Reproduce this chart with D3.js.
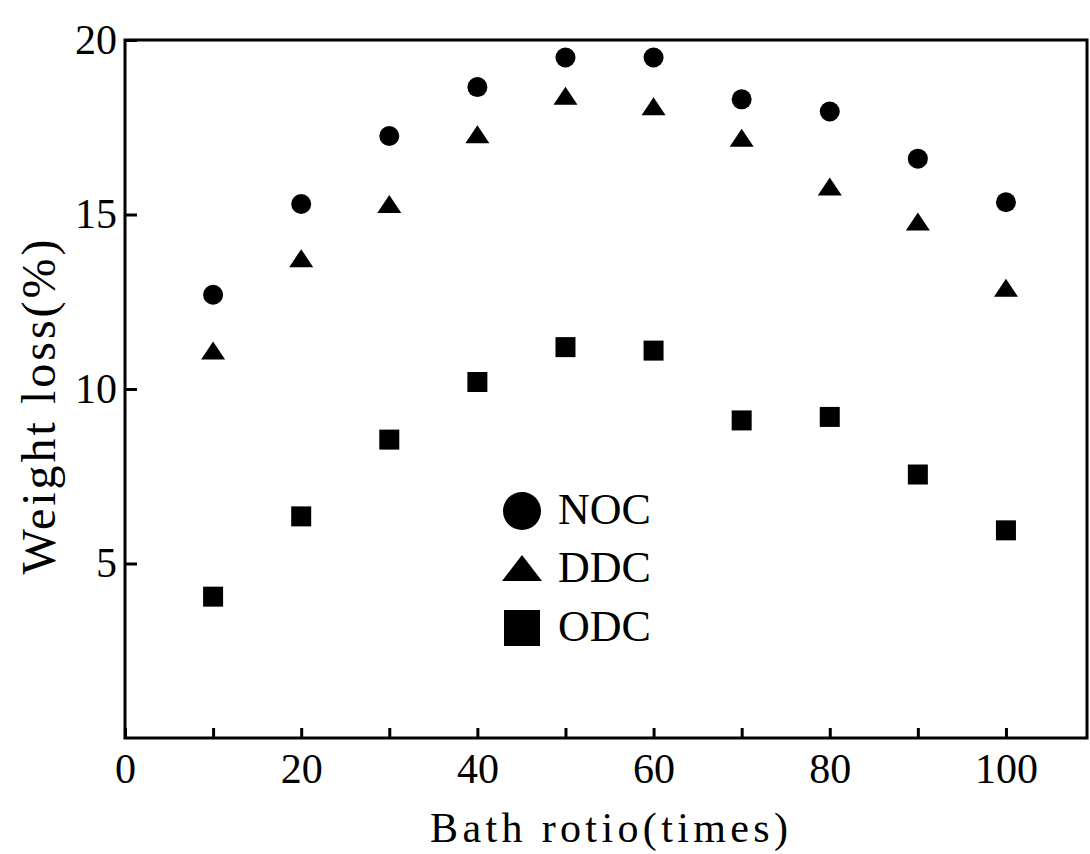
<!DOCTYPE html>
<html>
<head>
  <meta charset="utf-8">
  <title>Weight loss vs bath ratio</title>
  <script src="https://d3js.org/d3.v7.min.js"></script>
  <style>
    body { margin: 0; background: #fff; }
    svg { display: block; }
    text { font-family: "Liberation Serif", "DejaVu Serif", serif; fill: #000; }
  </style>
</head>
<body>
  <div id="chart"></div>
  <script>
    // data
    var ratios = [10, 20, 30, 40, 50, 60, 70, 80, 90, 100];
    var noc = [12.7, 15.3, 17.25, 18.65, 19.5, 19.5, 18.3, 17.95, 16.6, 15.35];
    var ddc = [11.1, 13.75, 15.3, 17.3, 18.4, 18.1, 17.2, 15.8, 14.8, 12.9];
    var odc = [4.05, 6.35, 8.55, 10.2, 11.2, 11.1, 9.1, 9.2, 7.55, 5.95];
    var seriesNames = ["NOC", "DDC", "ODC"];
    var xTicks = [0, 10, 20, 30, 40, 50, 60, 70, 80, 90, 100];
    var yTicks = [5, 10, 15, 20];

    var W = 1090, H = 854;
    // plot box (window.top is reserved, so use a margin object)
    var box = { left: 125, right: 1087, top: 40, bottom: 738 };

    var svg = d3.select("#chart").append("svg")
      .attr("width", W)
      .attr("height", H);

    var x = d3.scaleLinear().domain([0, 109.2]).range([box.left, box.right]);
    var y = d3.scaleLinear().domain([0, 20]).range([box.bottom, box.top]);

    // x axis, ticks pointing inward
    var xAxis = svg.append("g")
      .attr("transform", "translate(0," + box.bottom + ")")
      .call(d3.axisBottom(x)
        .tickValues(xTicks)
        .tickSizeInner(-10)
        .tickSizeOuter(0)
        .tickPadding(15)
        .tickFormat(function (d) { return d % 20 === 0 ? d : ""; }));
    xAxis.select(".domain").remove();
    xAxis.selectAll("line").attr("stroke", "#000").attr("stroke-width", 3);
    xAxis.selectAll("text").attr("font-size", 42).attr("font-family", "Liberation Serif");

    // y axis
    var yAxis = svg.append("g")
      .attr("transform", "translate(" + box.left + ",0)")
      .call(d3.axisLeft(y)
        .tickValues(yTicks)
        .tickSizeInner(-12)
        .tickSizeOuter(0)
        .tickPadding(8));
    yAxis.select(".domain").remove();
    yAxis.selectAll("line").attr("stroke", "#000").attr("stroke-width", 3);
    yAxis.selectAll("text").attr("font-size", 42).attr("font-family", "Liberation Serif");

    // frame
    svg.append("rect")
      .attr("x", box.left).attr("y", box.top)
      .attr("width", box.right - box.left).attr("height", box.bottom - box.top)
      .attr("fill", "none")
      .attr("stroke", "#000")
      .attr("stroke-width", 3);

    // axis titles
    svg.append("text")
      .attr("x", 609).attr("y", 842)
      .attr("text-anchor", "middle")
      .attr("font-size", 42)
      .attr("textLength", 358)
      .attr("lengthAdjust", "spacing")
      .text("Bath rotio(times)");

    svg.append("text")
      .attr("transform", "translate(55,407) rotate(-90)")
      .attr("text-anchor", "middle")
      .attr("font-size", 48)
      .attr("textLength", 335)
      .attr("lengthAdjust", "spacing")
      .text("Weight loss(%)");

    // marker shapes
    function circlePath(s) {
      var r = s / 2;
      return "M" + (-r) + ",0A" + r + "," + r + " 0 1,0 " + r + ",0A" + r + "," + r + " 0 1,0 " + (-r) + ",0Z";
    }
    function trianglePath(w, h) {
      return "M0," + (-h / 2) + "L" + (w / 2) + "," + (h / 2) + "L" + (-w / 2) + "," + (h / 2) + "Z";
    }
    function squarePath(s) {
      var r = s / 2;
      return "M" + (-r) + "," + (-r) + "h" + s + "v" + s + "h" + (-s) + "Z";
    }

    var series = [
      { name: seriesNames[0], values: noc, shape: function (k) { return circlePath(20 * k); } },
      { name: seriesNames[1], values: ddc, shape: function (k) { return trianglePath(24 * k, 18 * k); } },
      { name: seriesNames[2], values: odc, shape: function (k) { return squarePath(20 * k); } }
    ];

    series.forEach(function (s) {
      svg.append("g").selectAll("path")
        .data(ratios.map(function (r, i) { return [r, s.values[i]]; }))
        .enter().append("path")
        .attr("transform", function (d) { return "translate(" + x(d[0]) + "," + y(d[1]) + ")"; })
        .attr("d", s.shape(1))
        .attr("fill", "#000");
    });

    // legend
    var legend = svg.append("g").attr("transform", "translate(522,511)");
    var rowY = [0, 58, 117];
    series.forEach(function (s, i) {
      var row = legend.append("g").attr("transform", "translate(0," + rowY[i] + ")");
      row.append("path")
        .attr("d", i === 1 ? trianglePath(40, 26) : s.shape(i === 0 ? 1.9 : 1.8))
        .attr("transform", i === 1 ? "translate(0,-1)" : null)
        .attr("fill", "#000");
      row.append("text")
        .attr("x", 36)
        .attr("y", 13)
        .attr("font-size", 44)
        .text(s.name);
    });
  </script>
</body>
</html>
